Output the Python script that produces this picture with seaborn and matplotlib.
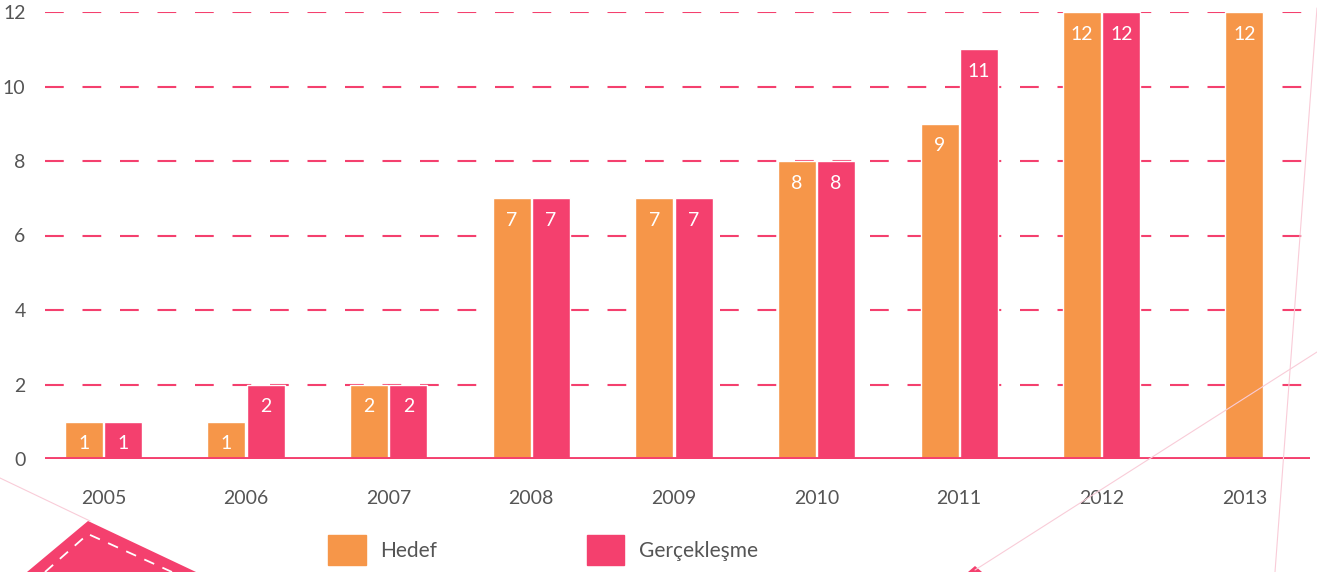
import numpy as np
import pandas as pd
import matplotlib
matplotlib.use('Agg')
import matplotlib.pyplot as plt
from matplotlib.patches import Polygon
from matplotlib.lines import Line2D
import seaborn as sns

yillar = ['2005', '2006', '2007', '2008', '2009', '2010', '2011', '2012', '2013']
hedef = [1, 1, 2, 7, 7, 8, 9, 12, 12]
gerceklesme = [1, 2, 2, 7, 7, 8, 11, 12, np.nan]
seriler = ['Hedef', 'Gerçekleşme']

turuncu = '#F69649'
pembe = '#F4406E'
gri = '#555555'

data = pd.DataFrame({
    'Yil': yillar * 2,
    'Seri': [seriler[0]] * len(yillar) + [seriler[1]] * len(yillar),
    'Deger': hedef + gerceklesme,
})

sns.set_style('white')
plt.rcParams['font.family'] = ['Lato', 'DejaVu Sans']

fig = plt.figure(figsize=(13.17, 5.72), dpi=100)
ax = fig.add_axes([45 / 1317, 113 / 572, 1265 / 1317, 447 / 572])

sns.barplot(data=data, x='Yil', y='Deger', hue='Seri', order=yillar,
            hue_order=seriler, palette=[turuncu, pembe], width=0.55,
            gap=0.03, saturation=1, ax=ax, legend=False)

# 2013 has only a target bar: center it on its tick
son = ax.containers[0][-1]
son.set_x(8 - son.get_width() / 2)

for c in ax.containers:
    ax.bar_label(c, fmt='%d', padding=-22, color='white', fontsize=14)

ax.set_ylim(0, 12)
ax.set_xlim(-0.41, 8.46)
ax.set_yticks(range(0, 13, 2))
for y in range(2, 13, 2):
    ax.axhline(y, color=pembe, lw=1.5, dashes=(9, 9), zorder=0)
ax.axhline(0, color=pembe, lw=2.8, zorder=3)

sns.despine(ax=ax, left=True, bottom=True, top=True, right=True)
ax.tick_params(axis='both', length=0, labelsize=14, labelcolor=gri)
ax.tick_params(axis='x', pad=22)
ax.tick_params(axis='y', pad=14)
ax.set_xlabel('')
ax.set_ylabel('')

tutamaclar = [plt.Rectangle((0, 0), 1, 1, color=turuncu),
              plt.Rectangle((0, 0), 1, 1, color=pembe)]
fig.legend(tutamaclar, seriler, loc='center left',
           bbox_to_anchor=(328 / 1317, 22 / 572), ncol=2, frameon=False,
           fontsize=15, labelcolor=gri, handlelength=1.8, handleheight=1.8,
           handletextpad=0.7, columnspacing=7.2, borderpad=0, borderaxespad=0)


# decorative shapes
def px(x, y):
    return (x / 1317, 1 - y / 572)


fig.add_artist(Line2D(*zip(px(0, 478), px(90, 521)), transform=fig.transFigure,
                      color='#F9CCD8', lw=0.8))
fig.add_artist(Line2D(*zip(px(975, 570), px(1317, 352)), transform=fig.transFigure,
                      color='#F9CCD8', lw=0.8))
fig.add_artist(Line2D(*zip(px(1317, 8), px(1275, 572)), transform=fig.transFigure,
                      color='#F9CCD8', lw=0.8))
fig.add_artist(Polygon([px(27, 572), px(88, 521), px(196, 572)],
                       transform=fig.transFigure, color=pembe, lw=0))
fig.add_artist(Line2D(*zip(px(45, 572), px(88, 534), px(172, 572)),
                      transform=fig.transFigure, color='white', lw=1.3,
                      dashes=(6, 5)))
fig.add_artist(Polygon([px(968, 572), px(975, 566), px(982, 572)],
                       transform=fig.transFigure, color=pembe, lw=0))

plt.savefig('out.png', dpi=100)
